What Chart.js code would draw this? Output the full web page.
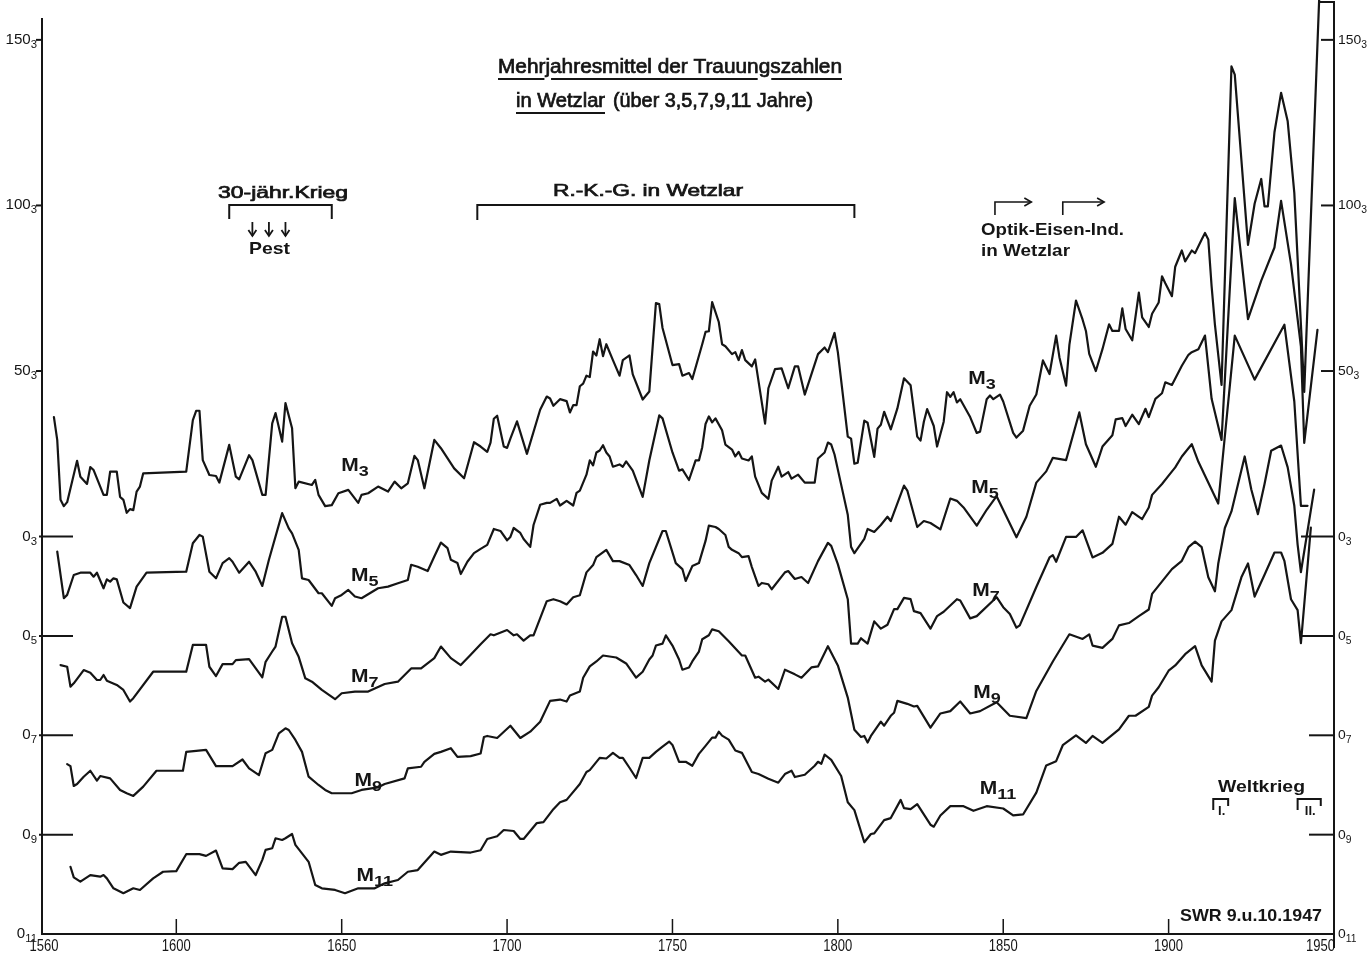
<!DOCTYPE html>
<html><head><meta charset="utf-8">
<script src="https://cdn.jsdelivr.net/npm/chart.js@4/dist/chart.umd.min.js"></script>
<style>html,body{margin:0;padding:0;background:#fff;overflow:hidden}canvas{display:block}</style>
</head><body>
<canvas id="c" width="1369" height="954"></canvas>
<script>
// ---- data: [year, value] (Trauungen, multi-year means) ----
const M3 = [[1563,36.1],[1564,29.2],[1565,11.1],[1566,9.2],[1567,10.4],[1570,22.9],[1571,18.1],[1573,15.9],[1574,21.0],[1575,20.1],[1578,12.6],[1579,12.6],[1580,19.6],[1582,19.6],[1583,12.0],[1584,11.1],[1585,7.2],[1586,8.3],[1587,8.0],[1588,13.6],[1589,15.1],[1590,19.1],[1603,19.6],[1605,35.2],[1606,38.0],[1607,38.0],[1608,23.1],[1610,18.6],[1612,18.3],[1613,16.3],[1616,27.7],[1618,18.1],[1619,17.3],[1622,24.6],[1623,23.1],[1626,12.6],[1627,12.6],[1629,34.2],[1630,37.3],[1632,28.7],[1633,40.3],[1635,32.7],[1636,14.6],[1637,16.6],[1641,15.6],[1642,17.1],[1643,12.6],[1645,9.2],[1647,9.5],[1649,13.1],[1652,14.1],[1655,10.2],[1656,12.6],[1658,13.1],[1661,15.1],[1664,13.6],[1666,16.6],[1668,14.6],[1670,16.1],[1672,24.4],[1673,23.1],[1675,14.6],[1678,29.2],[1680,26.7],[1684,20.6],[1687,17.6],[1690,28.5],[1692,27.2],[1694,25.6],[1695,28.4],[1696,35.6],[1697,36.5],[1699,27.2],[1700,26.8],[1701,29.6],[1703,34.8],[1706,25.0],[1710,38.3],[1712,42.3],[1713,41.7],[1714,39.5],[1716,41.5],[1718,40.9],[1719,37.5],[1720,39.7],[1721,39.7],[1722,45.4],[1723,46.2],[1724,48.6],[1725,48.2],[1726,55.9],[1727,54.7],[1728,59.6],[1729,54.5],[1730,58.1],[1732,53.3],[1734,48.6],[1735,53.3],[1737,54.7],[1738,49.0],[1741,41.4],[1743,43.8],[1745,70.5],[1746,70.2],[1747,63.0],[1750,51.8],[1752,52.1],[1753,48.6],[1755,49.4],[1756,47.6],[1759,58.1],[1760,61.8],[1761,62.0],[1762,70.8],[1764,64.8],[1765,58.1],[1766,57.5],[1768,55.1],[1769,55.7],[1770,53.3],[1771,56.3],[1772,53.3],[1774,51.4],[1775,53.5],[1778,34.1],[1779,44.8],[1781,50.6],[1783,50.8],[1785,44.8],[1787,51.4],[1788,51.4],[1790,42.9],[1794,55.1],[1796,57.1],[1797,55.7],[1799,61.5],[1800,55.7],[1803,30.2],[1804,29.6],[1805,22.0],[1806,22.3],[1808,35.0],[1809,34.4],[1811,24.1],[1812,32.6],[1813,33.8],[1814,37.7],[1816,32.4],[1818,38.7],[1820,47.8],[1822,45.7],[1824,30.2],[1825,29.0],[1826,34.7],[1827,38.5],[1829,33.4],[1830,27.2],[1832,34.7],[1833,43.6],[1834,42.2],[1835,43.6],[1836,40.5],[1837,41.5],[1840,36.1],[1842,31.3],[1843,31.7],[1845,41.5],[1846,42.6],[1847,41.5],[1849,42.9],[1850,40.8],[1853,31.3],[1854,29.9],[1856,32.0],[1858,39.5],[1860,42.9],[1862,53.2],[1864,49.1],[1866,60.7],[1867,54.1],[1869,45.6],[1870,57.9],[1872,71.3],[1874,65.5],[1875,62.1],[1876,55.2],[1878,50.0],[1880,56.6],[1882,64.1],[1883,62.1],[1885,62.1],[1886,68.9],[1887,62.7],[1889,59.3],[1891,73.7],[1892,66.2],[1894,63.3],[1895,67.3],[1897,70.7],[1898,78.6],[1899,76.5],[1901,72.6],[1902,81.5],[1904,86.4],[1905,83.1],[1907,86.4],[1908,85.6],[1910,89.7],[1911,91.7],[1912,89.7],[1913,75.6],[1914,64.0],[1916,45.8],[1919,142.0],[1920,139.5],[1922,113.8],[1924,88.1],[1926,100.5],[1928,108.0],[1929,99.7],[1930,99.7],[1932,122.1],[1934,134.0],[1936,125.4],[1938,103.8],[1940,64.0],[1941,43.7],[1946,175.0]];

const M5 = [[1564,25.5],[1566,11.4],[1567,12.4],[1569,18.4],[1571,19.1],[1574,19.1],[1575,17.9],[1576,19.1],[1578,14.4],[1579,17.1],[1580,16.4],[1581,17.4],[1582,17.1],[1584,10.1],[1586,8.4],[1588,14.9],[1591,19.1],[1603,19.4],[1605,28.0],[1607,30.5],[1608,30.0],[1610,19.4],[1612,17.4],[1614,22.0],[1616,23.5],[1617,22.4],[1619,19.1],[1622,22.4],[1624,19.4],[1626,15.1],[1628,23.0],[1632,37.1],[1634,32.5],[1635,31.0],[1637,26.0],[1638,17.4],[1640,16.9],[1643,12.9],[1644,12.9],[1647,9.1],[1648,11.4],[1650,12.4],[1652,13.9],[1654,11.9],[1656,11.4],[1661,14.4],[1664,14.9],[1667,15.9],[1670,16.9],[1671,21.5],[1673,20.9],[1676,19.6],[1678,24.0],[1680,28.2],[1682,26.5],[1683,23.0],[1685,22.0],[1686,18.7],[1688,22.4],[1690,25.0],[1692,26.3],[1694,27.5],[1696,32.3],[1698,31.7],[1700,28.9],[1701,29.9],[1702,32.6],[1704,31.1],[1705,29.3],[1707,26.9],[1708,33.5],[1710,39.6],[1712,40.2],[1713,40.2],[1715,41.4],[1716,39.4],[1718,40.8],[1720,39.4],[1721,43.2],[1722,43.9],[1724,48.7],[1725,53.0],[1726,51.5],[1727,55.4],[1728,56.0],[1729,57.6],[1730,55.4],[1731,54.2],[1732,51.1],[1734,51.8],[1735,51.1],[1736,52.7],[1738,49.9],[1741,42.0],[1743,53.0],[1746,66.6],[1747,65.7],[1750,55.4],[1752,49.9],[1753,50.3],[1755,47.1],[1757,53.0],[1758,53.0],[1759,57.0],[1760,64.0],[1761,66.3],[1762,64.5],[1763,65.7],[1765,62.1],[1766,57.8],[1768,56.3],[1769,54.2],[1770,55.6],[1771,53.6],[1773,53.0],[1774,54.2],[1775,48.1],[1777,43.2],[1779,41.4],[1780,46.9],[1782,51.1],[1783,48.1],[1785,49.5],[1786,47.5],[1788,48.7],[1790,46.3],[1793,46.3],[1794,53.6],[1796,55.4],[1797,58.4],[1798,57.8],[1799,54.8],[1801,45.7],[1803,36.6],[1804,26.9],[1805,25.0],[1808,29.3],[1809,32.3],[1811,31.4],[1813,33.5],[1815,36.0],[1816,34.7],[1820,45.4],[1821,43.9],[1824,32.9],[1826,34.7],[1828,34.1],[1831,32.2],[1834,41.5],[1836,40.8],[1838,38.8],[1842,33.3],[1845,38.1],[1848,42.2],[1851,36.0],[1854,29.8],[1857,36.0],[1860,46.3],[1863,49.7],[1865,53.8],[1869,53.1],[1873,67.5],[1875,57.9],[1878,51.1],[1880,57.2],[1883,60.6],[1884,65.4],[1886,65.8],[1887,63.4],[1889,66.8],[1891,64.0],[1893,68.6],[1894,66.1],[1896,71.6],[1898,73.3],[1899,76.6],[1901,75.8],[1904,81.6],[1906,84.9],[1907,85.7],[1909,86.6],[1911,90.7],[1913,71.6],[1916,59.2],[1920,132.2],[1924,95.7],[1928,107.3],[1932,117.3],[1934,131.4],[1937,112.3],[1940,87.4],[1941,58.3],[1945,92.4]];

const M7 = [[1565,21.2],[1567,20.7],[1568,14.7],[1569,15.7],[1572,19.7],[1574,18.9],[1576,16.7],[1577,16.7],[1578,18.2],[1579,16.5],[1582,15.2],[1584,13.7],[1586,10.2],[1587,11.2],[1593,19.2],[1603,19.2],[1605,27.3],[1609,27.3],[1610,20.7],[1612,17.9],[1614,21.5],[1617,21.5],[1618,22.7],[1622,23.0],[1626,17.5],[1627,22.2],[1629,25.3],[1630,26.8],[1632,35.8],[1633,35.8],[1635,27.8],[1637,23.7],[1639,17.2],[1641,16.2],[1644,13.7],[1648,10.9],[1650,12.7],[1654,13.2],[1658,13.2],[1663,15.5],[1667,16.2],[1671,20.2],[1674,20.2],[1678,23.3],[1680,26.8],[1683,23.3],[1686,21.2],[1689,24.3],[1692,27.5],[1695,30.5],[1696,30.2],[1700,31.8],[1702,30.2],[1703,30.5],[1705,28.6],[1707,30.2],[1708,30.2],[1712,40.5],[1714,41.1],[1716,40.5],[1718,39.5],[1720,41.7],[1722,42.3],[1724,49.2],[1726,51.4],[1727,53.8],[1730,56.0],[1732,52.6],[1734,52.6],[1737,51.4],[1739,48.4],[1741,45.1],[1743,52.0],[1747,61.7],[1748,61.7],[1751,52.0],[1753,50.2],[1754,46.6],[1756,51.1],[1758,52.0],[1760,58.7],[1761,63.3],[1763,62.9],[1764,62.3],[1766,60.5],[1767,56.9],[1768,56.0],[1770,55.0],[1771,53.8],[1773,54.1],[1774,50.8],[1776,45.1],[1777,46.0],[1779,45.6],[1780,44.1],[1784,49.2],[1785,49.6],[1787,47.2],[1789,47.8],[1791,46.0],[1794,52.6],[1797,58.1],[1798,57.2],[1800,51.7],[1803,41.1],[1804,27.7],[1806,27.7],[1807,29.3],[1809,27.7],[1811,34.4],[1813,32.2],[1815,33.4],[1817,38.1],[1818,38.1],[1820,41.5],[1822,41.1],[1823,37.5],[1825,36.9],[1828,32.2],[1830,36.0],[1832,37.3],[1836,41.1],[1837,40.7],[1840,35.3],[1842,36.0],[1848,41.7],[1850,38.7],[1852,36.6],[1854,32.5],[1855,33.2],[1860,44.8],[1864,53.7],[1865,54.4],[1866,52.4],[1869,59.9],[1872,59.9],[1874,61.9],[1877,53.7],[1880,55.1],[1883,57.8],[1885,66.0],[1887,63.6],[1889,67.4],[1892,65.3],[1894,68.8],[1895,72.6],[1898,75.9],[1900,78.4],[1902,80.9],[1904,84.2],[1906,86.7],[1907,87.9],[1909,82.6],[1915,70.0],[1920,120.7],[1926,107.4],[1935,124.0],[1938,100.8],[1940,69.3],[1942,69.3]];

const M9 = [[1567,21.3],[1568,20.7],[1569,14.7],[1570,15.3],[1572,17.5],[1574,19.3],[1576,16.3],[1577,17.7],[1580,17.0],[1583,13.5],[1585,12.5],[1587,11.7],[1590,14.5],[1594,19.3],[1602,19.3],[1603,25.0],[1609,25.6],[1612,20.7],[1617,20.7],[1620,22.7],[1622,20.0],[1625,18.0],[1627,24.6],[1629,25.6],[1631,30.6],[1633,32.1],[1634,31.6],[1636,28.6],[1638,25.0],[1640,17.5],[1643,15.0],[1645,13.5],[1647,12.5],[1653,12.5],[1656,13.5],[1661,14.3],[1663,15.3],[1669,17.0],[1670,20.0],[1674,20.5],[1675,22.0],[1678,24.4],[1680,25.0],[1683,26.1],[1685,23.5],[1689,23.7],[1692,24.5],[1693,29.5],[1694,29.8],[1697,29.2],[1701,32.9],[1704,29.2],[1707,31.1],[1710,34.1],[1713,40.4],[1716,40.8],[1718,40.2],[1719,42.0],[1722,43.2],[1723,47.4],[1725,50.8],[1727,52.3],[1729,54.1],[1733,53.5],[1736,51.7],[1739,47.4],[1741,49.2],[1743,52.9],[1744,54.1],[1745,57.1],[1747,57.7],[1748,60.2],[1750,57.1],[1752,52.9],[1753,49.8],[1755,50.5],[1756,52.3],[1758,55.3],[1759,59.0],[1761,60.2],[1762,62.0],[1764,61.4],[1767,58.4],[1771,54.1],[1772,54.1],[1775,47.4],[1776,47.7],[1778,46.2],[1779,46.8],[1782,44.0],[1784,49.8],[1787,48.4],[1789,47.4],[1792,50.5],[1794,50.8],[1797,56.9],[1800,51.1],[1803,41.4],[1805,31.7],[1807,29.5],[1808,29.8],[1809,27.8],[1810,29.8],[1813,34.1],[1814,32.9],[1816,35.9],[1817,36.8],[1818,40.4],[1821,39.5],[1823,38.7],[1824,38.9],[1828,32.3],[1831,36.6],[1834,37.3],[1837,40.2],[1840,36.6],[1843,37.3],[1848,40.0],[1852,35.9],[1857,35.2],[1860,43.4],[1865,52.3],[1870,60.5],[1874,59.1],[1876,60.5],[1877,57.1],[1880,56.4],[1883,59.1],[1885,63.2],[1888,63.9],[1891,66.0],[1894,68.0],[1895,72.7],[1897,75.2],[1899,77.7],[1901,80.2],[1904,82.7],[1906,86.8],[1908,88.5],[1910,86.8],[1912,77.7],[1914,73.5],[1915,81.8],[1917,92.6],[1919,97.6],[1921,105.9],[1923,114.2],[1925,104.2],[1927,96.8],[1929,105.9],[1931,115.9],[1934,117.5],[1936,110.9],[1938,99.3],[1939,87.6],[1940,79.3],[1944,104.2]];

const M11 = [[1568,20.3],[1569,17.1],[1571,15.8],[1574,17.8],[1577,17.3],[1578,17.8],[1579,16.8],[1581,13.8],[1584,12.3],[1587,13.8],[1589,13.3],[1593,16.8],[1596,18.8],[1600,19.0],[1603,24.1],[1607,24.1],[1609,23.6],[1612,25.2],[1614,19.8],[1617,19.6],[1619,21.5],[1621,21.8],[1624,17.8],[1626,22.4],[1627,25.4],[1629,25.9],[1630,28.9],[1632,28.4],[1633,28.9],[1635,30.2],[1636,26.9],[1640,21.8],[1642,14.8],[1644,13.8],[1648,13.3],[1651,12.3],[1655,13.8],[1660,13.8],[1663,15.3],[1667,16.3],[1670,18.8],[1673,19.3],[1678,24.9],[1680,23.9],[1683,24.9],[1689,24.6],[1692,25.3],[1694,28.7],[1697,29.5],[1699,31.4],[1702,31.1],[1704,28.7],[1705,28.7],[1709,33.5],[1711,33.8],[1714,37.7],[1716,39.8],[1718,40.5],[1719,41.7],[1722,45.3],[1724,48.9],[1725,49.5],[1728,53.2],[1730,53.0],[1732,54.7],[1734,53.2],[1735,53.2],[1737,50.2],[1739,47.1],[1741,53.2],[1743,53.2],[1745,55.0],[1747,56.6],[1749,58.1],[1750,57.1],[1752,52.0],[1754,52.0],[1756,50.8],[1758,54.4],[1760,56.8],[1762,59.3],[1763,59.3],[1764,61.1],[1765,59.9],[1767,58.7],[1769,55.4],[1771,54.7],[1774,48.9],[1776,48.3],[1779,46.9],[1782,45.7],[1784,48.3],[1786,49.3],[1787,47.4],[1790,48.1],[1793,50.8],[1794,52.0],[1795,51.4],[1796,54.2],[1798,52.6],[1801,47.7],[1803,39.8],[1805,37.4],[1808,27.7],[1810,30.2],[1811,30.4],[1814,34.4],[1816,35.0],[1819,40.5],[1820,38.0],[1822,37.7],[1824,39.2],[1828,33.0],[1829,32.4],[1831,35.8],[1834,38.6],[1838,38.6],[1841,37.2],[1845,38.6],[1850,37.9],[1853,35.8],[1856,36.1],[1860,42.7],[1863,50.9],[1866,52.2],[1868,57.0],[1872,60.0],[1875,57.7],[1877,59.8],[1880,57.7],[1885,61.8],[1888,65.9],[1890,65.9],[1894,68.6],[1895,72.0],[1897,74.5],[1900,79.5],[1902,81.1],[1905,84.5],[1908,86.9],[1910,81.1],[1913,76.2],[1914,88.6],[1916,94.4],[1919,97.8],[1922,107.7],[1924,111.9],[1926,101.9],[1929,108.5],[1932,115.2],[1934,115.2],[1935,112.7],[1937,101.1],[1939,97.8],[1940,87.8],[1943,122.7]];

// series subscripts and the zero line of each series on the common scale
const seriesSub = ['3','5','7','9','11'];
const seriesZero = [0,-30,-60,-90,-120];
// label anchors (year, value in the series' own units)
const labelYearsA = [1654,1657,1657,1658,1660];
const labelValsA = [21.6,18.4,17.9,16.5,17.8];
const labelYearsB = [1843.6,1844.5,1844.8,1845.1,1848.4];
const labelValsB = [47.9,45.0,43.9,43.1,44.0];

// axes
const xTickYears = [1560,1600,1650,1700,1750,1800,1850,1900,1950];
const yTickValues = [150,100,50,0,-30,-60,-90,-120];
const yTickMain = ['150','100','50','0','0','0','0','0'];
const yTickSub = ['3','3','3','3','5','7','9','11'];

// annotations
const titleLine1 = 'Mehrjahresmittel der Trauungszahlen';
const titleLine2a = 'in Wetzlar';
const titleLine2b = '(über 3,5,7,9,11 Jahre)';
const warLabel = '30-jähr.Krieg', warSpan = [1616,1647];
const pestLabel = 'Pest', pestYears = [1623,1628,1633];
const rkgLabel = 'R.-K.-G. in Wetzlar', rkgSpan = [1691,1805];
const industryLabel1 = 'Optik-Eisen-Ind.', industryLabel2 = 'in Wetzlar';
const industryStarts = [1847.5,1868], industryEnds = [1858.5,1880.5];
const worldWarLabel = 'Weltkrieg', worldWar1 = [1913.5,1918], worldWar2 = [1939,1946];
const signature = 'SWR 9.u.10.1947';

const INK = '#151515';
const SANS = '"Liberation Sans", Arial, sans-serif';
const NARROW = '"Liberation Sans Narrow", "Liberation Sans", Arial, sans-serif';

function drawText(ctx, s, x, base, size, weight, width, align, family, heavy) {
  ctx.save();
  ctx.font = weight + ' ' + size + 'px ' + (family || SANS);
  ctx.textBaseline = 'alphabetic'; ctx.textAlign = 'left';
  const w = ctx.measureText(s).width;
  const sx = width ? width / w : 1;
  const W = w * sx;
  let left = x;
  if (align === 'center') left = x - W / 2; else if (align === 'right') left = x - W;
  ctx.translate(left, base); ctx.scale(sx, 1); ctx.fillText(s, 0, 0);
  if (heavy) { ctx.lineWidth = heavy; ctx.strokeStyle = INK; ctx.strokeText(s, 0, 0); }
  ctx.restore();
  return {left: left, right: left + W, sx: sx, font: weight + ' ' + size + 'px ' + (family || SANS)};
}
function seg(ctx, x0, x1, y) { ctx.beginPath(); ctx.moveTo(x0, y); ctx.lineTo(x1, y); ctx.stroke(); }
function underline(ctx, s, info, base, skip) {
  ctx.save(); ctx.font = info.font;
  let segStart = null;
  for (let i = 0; i <= s.length; i++) {
    const ch = s[i];
    const xi = info.left + ctx.measureText(s.slice(0, i)).width * info.sx;
    const isSkip = ch !== undefined && skip.indexOf(ch) >= 0;
    if (ch === undefined || isSkip) {
      if (segStart !== null) { seg(ctx, segStart, xi - (isSkip ? 1 : 0), base); segStart = null; }
    } else if (segStart === null) {
      segStart = xi + (i > 0 && skip.indexOf(s[i-1]) >= 0 ? 1 : 0);
    }
  }
  ctx.restore();
}
function subLabel(ctx, main, sub, x, base, mainSize, subSize, drop, weight, family, align, sx) {
  ctx.save();
  ctx.textBaseline = 'alphabetic'; ctx.textAlign = 'left';
  ctx.font = weight + ' ' + mainSize + 'px ' + family;
  const w1 = ctx.measureText(main).width * sx;
  ctx.font = weight + ' ' + subSize + 'px ' + family;
  const w2 = ctx.measureText(sub).width * sx;
  let left = x;
  if (align === 'center') left = x - (w1 + w2) / 2; else if (align === 'right') left = x - (w1 + w2);
  ctx.font = weight + ' ' + mainSize + 'px ' + family;
  ctx.save(); ctx.translate(left, base); ctx.scale(sx, 1); ctx.fillText(main, 0, 0); ctx.restore();
  ctx.font = weight + ' ' + subSize + 'px ' + family;
  ctx.save(); ctx.translate(left + w1, base + drop); ctx.scale(sx, 1); ctx.fillText(sub, 0, 0); ctx.restore();
  ctx.restore();
}

const overlay = {
  id: 'overlay',
  afterDatasetsDraw(chart) {
    const ctx = chart.ctx, a = chart.chartArea, xs = chart.scales.x, ys = chart.scales.y;
    ctx.save();
    ctx.strokeStyle = INK; ctx.fillStyle = INK; ctx.lineWidth = 2; ctx.lineCap = 'butt';
    // frame / axes
    ctx.beginPath(); ctx.moveTo(a.left - 2, 18); ctx.lineTo(a.left - 2, a.bottom + 1); ctx.stroke();
    ctx.beginPath(); ctx.moveTo(a.left - 3, a.bottom); ctx.lineTo(a.right + 1, a.bottom); ctx.stroke();
    ctx.beginPath(); ctx.moveTo(a.right, 1); ctx.lineTo(a.right, 948); ctx.stroke();
    seg(ctx, a.right - 15, a.right, 2);
    // x ticks + labels
    xTickYears.forEach((yr, i) => {
      const px = xs.getPixelForValue(yr);
      if (i > 0 && i < xTickYears.length - 1) {
        ctx.lineWidth = 1.5;
        ctx.beginPath(); ctx.moveTo(px, a.bottom); ctx.lineTo(px, a.bottom - 15); ctx.stroke();
        ctx.lineWidth = 2;
      }
      const last = i === xTickYears.length - 1;
      drawText(ctx, String(yr), last ? a.right + 1 : px, 951, 16.5, 'normal', 29, last ? 'right' : 'center', NARROW);
    });
    // y ticks + labels (left and right)
    yTickValues.forEach((v, i) => {
      const py = ys.getPixelForValue(v);
      const big = v > 0;
      if (v > -120) {
        if (big) seg(ctx, a.left - 8, a.left - 2, py); else seg(ctx, a.left - 5, a.left + 29, py);
        if (big) seg(ctx, a.right - 13, a.right, py);
        else seg(ctx, a.right - (v >= -30 ? 33 : 25), a.right, py);
      } else {
        seg(ctx, a.right - 7, a.right, py);
      }
      subLabel(ctx, yTickMain[i], yTickSub[i], a.left - 7, py + 4, 14, 10.5, 4, 'normal', NARROW, 'right', 1.08);
      subLabel(ctx, yTickMain[i], yTickSub[i], a.right + 4, py + 4, 13.5, 10, 4, 'normal', NARROW, 'left', 1.03);
    });
    // series labels
    [labelYearsA, labelYearsB].forEach((yrs, k) => {
      const vals = k === 0 ? labelValsA : labelValsB;
      yrs.forEach((yr, i) => {
        const px = xs.getPixelForValue(yr), py = ys.getPixelForValue(vals[i] + seriesZero[i]);
        subLabel(ctx, 'M', seriesSub[i], px, py + 6, 17.5, 15, 5, 'bold', SANS, 'center', 1.2);
      });
    });
    // title
    const t1 = drawText(ctx, titleLine1, 498, 73, 19.5, 'normal', 344, 'left', SANS, 0.7);
    underline(ctx, titleLine1, t1, 79, 'jg');
    const t2 = drawText(ctx, titleLine2a, 516, 107, 19.5, 'normal', 89, 'left', SANS, 0.7);
    underline(ctx, titleLine2a, t2, 113, '');
    drawText(ctx, titleLine2b, 613, 107, 19.5, 'normal', 200, 'left', SANS, 0.7);
    // 30-year war + plague
    const w0 = xs.getPixelForValue(warSpan[0]), w1 = xs.getPixelForValue(warSpan[1]);
    drawText(ctx, warLabel, 218, 198, 16.5, 'normal', 130, 'left', SANS, 0.7);
    ctx.lineWidth = 2;
    ctx.beginPath(); ctx.moveTo(w0, 219); ctx.lineTo(w0, 205); ctx.lineTo(w1, 205); ctx.lineTo(w1, 219); ctx.stroke();
    ctx.lineWidth = 1.8;
    pestYears.forEach(yr => {
      const px = xs.getPixelForValue(yr);
      ctx.beginPath(); ctx.moveTo(px, 222); ctx.lineTo(px, 236); ctx.stroke();
      ctx.beginPath(); ctx.moveTo(px - 4, 230); ctx.lineTo(px, 236); ctx.lineTo(px + 4, 230); ctx.stroke();
    });
    ctx.lineWidth = 2;
    drawText(ctx, pestLabel, 249, 254, 16.5, 'bold', 41, 'left');
    // Reichskammergericht
    const r0 = xs.getPixelForValue(rkgSpan[0]), r1 = xs.getPixelForValue(rkgSpan[1]);
    drawText(ctx, rkgLabel, 553, 196, 16.5, 'normal', 190, 'left', SANS, 0.7);
    ctx.lineWidth = 2;
    ctx.beginPath(); ctx.moveTo(r0, 220); ctx.lineTo(r0, 205); ctx.lineTo(r1, 205); ctx.lineTo(r1, 218); ctx.stroke();
    // industry arrows
    industryStarts.forEach((yr, i) => {
      const p0 = xs.getPixelForValue(yr), p1 = xs.getPixelForValue(industryEnds[i]);
      ctx.lineWidth = 1.6;
      ctx.beginPath(); ctx.moveTo(p0, 215); ctx.lineTo(p0, 202); ctx.lineTo(p1, 202); ctx.stroke();
      ctx.beginPath(); ctx.moveTo(p1 - 7, 198); ctx.lineTo(p1, 202); ctx.lineTo(p1 - 7, 206); ctx.stroke();
    });
    ctx.lineWidth = 2;
    drawText(ctx, industryLabel1, 981, 235, 16.5, 'bold', 143, 'left');
    drawText(ctx, industryLabel2, 981, 256, 16.5, 'bold', 89, 'left');
    // world wars
    drawText(ctx, worldWarLabel, 1218, 792, 16, 'bold', 87, 'left');
    [[worldWar1, 'I.'], [worldWar2, 'II.']].forEach(([span, lab]) => {
      const p0 = xs.getPixelForValue(span[0]), p1 = xs.getPixelForValue(span[1]);
      ctx.beginPath(); ctx.moveTo(p0, 810); ctx.lineTo(p0, 799); ctx.lineTo(p1, 799); ctx.lineTo(p1, 806); ctx.stroke();
      drawText(ctx, lab, (p0 + p1) / 2 + 1, 815, 13, 'bold', 0, 'center');
    });
    drawText(ctx, signature, 1180, 921, 16.5, 'bold', 142, 'left');
    ctx.restore();
  }
};

const datasets = [M3, M5, M7, M9, M11].map((s, i) => ({
  label: 'M' + seriesSub[i],
  data: s.map(p => ({x: p[0], y: p[1] + seriesZero[i]})),
  borderColor: INK, borderWidth: 2.2, pointRadius: 0, fill: false, tension: 0,
  borderJoinStyle: 'round', borderCapStyle: 'round',
  clip: i === 0 ? {left: 0, top: 20, right: 0, bottom: 0} : 0
}));

new Chart(document.getElementById('c'), {
  type: 'line',
  data: {datasets: datasets},
  options: {
    responsive: false, animation: false, events: [],
    layout: {padding: {left: 44, top: 20, right: 35, bottom: 20}},
    scales: {
      x: {type: 'linear', min: 1560, max: 1950, display: false},
      y: {type: 'linear', min: -120, max: 156, display: false}
    },
    plugins: {legend: {display: false}, tooltip: {enabled: false}, title: {display: false}}
  },
  plugins: [overlay]
});
</script>
</body></html>
